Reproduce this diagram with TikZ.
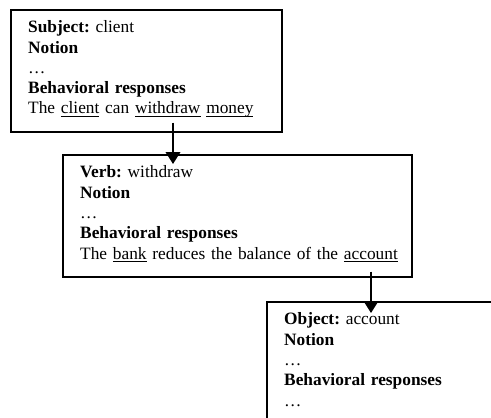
\documentclass[tikz,border=0pt]{standalone}
\usepackage{fontspec}
\setmainfont{Liberation Serif}
\usetikzlibrary{arrows.meta, calc}

\frenchspacing
\newcommand{\ulw}[1]{\underline{\smash{#1}}}
\newcommand{\firstline}{\rule{0pt}{17.3pt}}
\newcommand{\lastline}{\rule[-13.3pt]{0pt}{13.3pt}}

\tikzset{
	frame/.style={draw, line width=1.3pt, anchor=north west, inner xsep=13pt, inner ysep=0pt,
		align=left, font=\fontsize{13pt}{15.2pt}\selectfont},
	link/.style={line width=1.3pt, -{Triangle[length=9pt,width=11pt]}}
}

\begin{document}
\begin{tikzpicture}[x=0.75pt, y=-0.75pt]
	%%% Cornice
	\useasboundingbox (0,0) rectangle (491,417);
	\clip (0,0) rectangle (491,417);
	
	%%% Riquadri
	\node[frame, text width=177.25pt] (subj) at (10,9)
		{\firstline\textbf{Subject:} client\\ \textbf{Notion}\\ …\\ \textbf{Behavioral responses}\\
		\mbox{The \ulw{client} can \ulw{withdraw} \ulw{money}}\lastline};
	\node[frame, text width=235.75pt] (verb) at (62,154)
		{\firstline\textbf{Verb:} withdraw\\ \textbf{Notion}\\ …\\ \textbf{Behavioral responses}\\
		\mbox{The \ulw{bank} reduces the balance of the \ulw{account}}\lastline};
	\node[frame, text width=177.25pt] (obj) at (266,301)
		{\firstline\textbf{Object:} account\\ \textbf{Notion}\\ …\\ \textbf{Behavioral responses}\\
		…\lastline};
	
	%%% Frecce
	\draw[link] ($(subj.south west)+(163,-10)$) -- ($(verb.north west)+(111,10)$);
	\draw[link] ($(verb.south west)+(309,-6)$) -- ($(obj.north west)+(105,12)$);
\end{tikzpicture}
\end{document}
